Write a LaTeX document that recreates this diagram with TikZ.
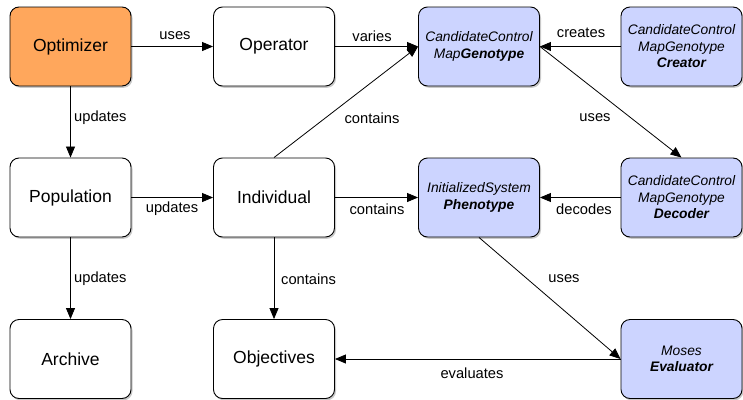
\documentclass[tikz,border=0pt]{standalone}
\usepackage{fontspec}
\setmainfont{Liberation Sans}
\usetikzlibrary{arrows.meta,shadows}
\definecolor{optorange}{RGB}{255,167,92}
\definecolor{mapblue}{RGB}{204,212,255}
\begin{document}
\begin{tikzpicture}[x=1pt,y=-1pt,
  box/.style={draw=black,line width=0.9pt,rounded corners=9pt,minimum width=121pt,minimum height=79pt,inner sep=0pt,align=center,fill=white,
    drop shadow={shadow xshift=1.5pt,shadow yshift=-1.8pt,opacity=0.3,fill=black!70}},
  plainbox/.style={box,font=\fontsize{17.5}{20}\selectfont},
  bluebox/.style={box,fill=mapblue,font=\fontsize{13.8}{16.5}\selectfont\itshape},
  conn/.style={draw,line width=0.8pt,-{Triangle[length=11pt,width=9pt]}},
  lbl/.style={font=\fontsize{14.7}{17}\selectfont,inner sep=1pt}]
\useasboundingbox (0,0) rectangle (743,399);
\node[plainbox,fill=optorange] (opt) at (70.5,46.5) {Optimizer};
\node[plainbox] (op) at (274,46.5) {Operator};
\node[bluebox] (gen) at (479,46.5) {CandidateControl\\Map\textbf{Genotype}};
\node[bluebox] (cre) at (681.5,46.5) {CandidateControl\\MapGenotype\\\textbf{Creator}};
\node[plainbox] (pop) at (70.5,197.5) {Population};
\node[plainbox] (ind) at (274,197.5) {Individual};
\node[bluebox] (phen) at (479,197.5) {InitializedSystem\\\textbf{Phenotype}};
\node[bluebox] (dec) at (681.5,197.5) {CandidateControl\\MapGenotype\\\textbf{Decoder}};
\node[plainbox] (arc) at (70.5,359) {Archive};
\node[plainbox] (obj) at (274,359) {Objectives};
\node[bluebox] (eva) at (681.5,359) {Moses\\\textbf{Evaluator}};

\draw[conn] (opt) -- (op);
\node[lbl] (l1) at (175,36) {uses};
\draw[conn] (op) -- (gen);
\node[lbl] (l2) at (372,36) {varies};
\draw[conn] (cre) -- (gen);
\node[lbl] (l3) at (581,33) {creates};
\draw[conn] (opt) -- (pop);
\node[lbl,anchor=west] (l4) at (73,118) {updates};
\draw[conn] (pop) -- (ind);
\node[lbl] (l5) at (172,209) {updates};
\draw[conn] (ind) -- (phen);
\node[lbl] (l6) at (377,209) {contains};
\draw[conn] (dec) -- (phen);
\node[lbl] (l7) at (584,209) {decodes};
\draw[conn] (ind.north) -- (gen.west);
\node[lbl] (l8) at (372,118) {contains};
\draw[conn] (gen.east) -- (dec.north);
\node[lbl] (l9) at (595,118) {uses};
\draw[conn] (pop) -- (arc);
\node[lbl,anchor=west] (l10) at (73,279) {updates};
\draw[conn] (ind) -- (obj);
\node[lbl,anchor=west] (l11) at (280,279) {contains};
\draw[conn] (phen.south) -- (eva.west);
\node[lbl] (l12) at (564,279) {uses};
\draw[conn] (eva) -- (obj);
\node[lbl] (l13) at (472,373) {evaluates};
\end{tikzpicture}
\end{document}
